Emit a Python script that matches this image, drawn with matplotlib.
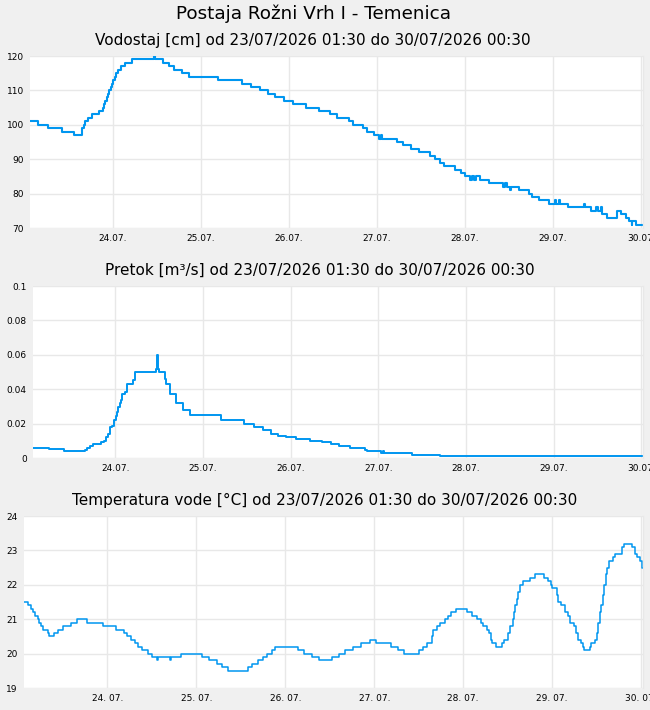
import matplotlib
matplotlib.use("Agg")
import matplotlib.pyplot as plt
import numpy as np

# Time is hours since 23/07/2026 00:00
T_START = 1.5      # 23/07 01:30
T_END = 168.5      # 30/07 00:30

# Vodostaj [cm]
level_t = [1.5, 3.8, 6.4, 10.3, 13.4, 15.8, 16.1, 16.5, 17.3, 18.3, 20.3, 21.3, 21.7, 22.0,
           22.4, 22.8, 23.1, 23.5, 23.8, 24.2, 24.6, 25.0, 25.5, 26.2, 27.4, 29.4, 35.3, 35.6,
           37.8, 39.3, 40.8, 42.8, 44.8, 52.8, 59.3, 61.6, 64.2, 66.4, 68.3, 70.6, 73.1, 76.7,
           80.3, 83.2, 85.1, 88.3, 89.6, 92.1, 93.3, 95.2, 96.7, 97.1, 97.5, 101.4, 103.0,
           105.3, 107.4, 110.4, 111.9, 113.2, 114.3, 117.3, 118.8, 120.0, 121.3, 122.0, 122.5,
           123.0, 124.2, 126.5, 130.4, 130.9, 131.4, 132.2, 132.6, 134.8, 137.4, 138.3, 140.1,
           142.8, 144.6, 144.9, 145.6, 146.0, 148.1, 152.3, 152.6, 154.2, 155.8, 156.2, 157.0,
           157.4, 158.7, 161.4, 162.6, 164.0, 164.7, 165.4, 165.6, 166.6, 168.5]
level_v = [101, 100, 99, 98, 97, 99, 100, 101, 102, 103, 104, 105, 106, 107,
           108, 109, 110, 111, 112, 113, 114, 115, 116, 117, 118, 119, 120, 119,
           118, 117, 116, 115, 114, 113, 112, 111, 110, 109, 108, 107, 106, 105,
           104, 103, 102, 101, 100, 99, 98, 97, 96, 97, 96, 95, 94,
           93, 92, 91, 90, 89, 88, 87, 86, 85, 84, 85, 84,
           85, 84, 83, 82, 83, 82, 81, 82, 81, 80, 79, 78,
           77, 78, 77, 78, 77, 76, 77, 76, 75, 76, 75, 76,
           74, 73, 75, 74, 73, 72, 71, 72, 71, 71]

# Pretok [m3/s]
flow_t = [1.5, 5.8, 10.0, 15.7, 16.2, 17.0, 18.0, 20.0, 21.0, 21.6, 22.0, 22.5, 23.2, 23.8,
          24.3, 24.6, 24.8, 25.2, 25.6, 26.0, 26.8, 27.3, 28.9, 29.4, 35.2, 35.5, 35.7, 36.0,
          37.6, 38.0, 38.9, 40.7, 42.7, 44.6, 52.9, 59.3, 62.0, 64.4, 66.6, 68.6, 70.8, 73.6,
          77.3, 80.5, 83.2, 85.2, 88.2, 92.4, 92.9, 96.9, 97.2, 97.6, 105.2, 113.0, 168.5]
flow_v = [0.0058, 0.0050, 0.0039, 0.0048, 0.0058, 0.0068, 0.0081, 0.0093, 0.0099, 0.0122,
          0.0141, 0.0180, 0.0186, 0.0219, 0.0242, 0.0267, 0.0297, 0.0320, 0.0335, 0.0370,
          0.0384, 0.0428, 0.0452, 0.0500, 0.0520, 0.0597, 0.0520, 0.0500, 0.0461, 0.0428,
          0.0374, 0.0320, 0.0277, 0.0248, 0.0219, 0.0200, 0.0180, 0.0161, 0.0141, 0.0128,
          0.0122, 0.0109, 0.0099, 0.0091, 0.0081, 0.0070, 0.0058, 0.0048, 0.0041, 0.0029,
          0.0039, 0.0031, 0.0019, 0.0014, 0.0014]

# Temperatura vode [°C]
temp_t = [1.5, 2.6, 3.5, 4.0, 4.6, 5.2, 5.5, 6.0, 6.5, 7.9, 8.2, 9.7, 10.8, 11.9, 14.2, 15.8,
          18.5, 22.8, 26.2, 28.4, 29.2, 30.4, 31.4, 32.3, 33.4, 35.0, 36.0, 37.5, 37.7, 40.9,
          41.1, 43.8, 49.5, 51.5, 53.5, 55.0, 56.5, 62.0, 63.0, 64.7, 66.0, 67.1, 68.3, 69.2,
          75.3, 77.1, 79.2, 81.2, 84.6, 86.4, 88.1, 90.3, 92.3, 94.8, 96.6, 100.5, 102.5, 104.0,
          108.0, 109.2, 110.3, 111.5, 111.9, 113.0, 113.7, 115.1, 116.0, 116.7, 118.0, 121.1,
          122.5, 123.6, 124.7, 125.4, 126.3, 126.9, 127.4, 127.7, 128.8, 130.4, 131.0, 132.2,
          132.6, 133.3, 133.7, 133.9, 134.4, 134.8, 135.3, 136.2, 138.0, 139.3, 141.8, 142.9,
          143.6, 144.0, 145.2, 145.7, 146.5, 147.4, 148.3, 148.9, 149.9, 150.4, 151.0, 151.7,
          152.4, 152.6, 154.2, 154.6, 155.5, 156.0, 156.4, 156.9, 157.3, 157.8, 158.1, 158.4,
          158.9, 159.4, 160.3, 160.9, 162.7, 163.4, 165.6, 166.3, 167.0, 167.7, 168.2, 168.5]
temp_v = [21.5, 21.4, 21.3, 21.2, 21.1, 21.0, 20.9, 20.8, 20.7, 20.6, 20.5, 20.6, 20.7, 20.8,
          20.9, 21.0, 20.9, 20.8, 20.7, 20.6, 20.5, 20.4, 20.3, 20.2, 20.1, 20.0, 19.9, 19.8,
          19.9, 19.8, 19.9, 20.0, 19.9, 19.8, 19.7, 19.6, 19.5, 19.6, 19.7, 19.8, 19.9, 20.0,
          20.1, 20.2, 20.1, 20.0, 19.9, 19.8, 19.9, 20.0, 20.1, 20.2, 20.3, 20.4, 20.3, 20.2,
          20.1, 20.0, 20.1, 20.2, 20.3, 20.5, 20.7, 20.8, 20.9, 21.0, 21.1, 21.2, 21.3, 21.2,
          21.1, 21.0, 20.9, 20.8, 20.7, 20.6, 20.4, 20.3, 20.2, 20.3, 20.4, 20.6, 20.8, 21.0,
          21.2, 21.4, 21.6, 21.8, 22.0, 22.1, 22.2, 22.3, 22.2, 22.1, 22.0, 21.9, 21.7, 21.5,
          21.4, 21.2, 21.1, 20.9, 20.8, 20.6, 20.4, 20.3, 20.2, 20.1, 20.2, 20.3, 20.4, 20.6,
          20.9, 21.2, 21.4, 21.7, 22.0, 22.3, 22.5, 22.7, 22.8, 22.9, 23.1, 23.2, 23.1, 22.9,
          22.8, 22.7, 22.5, 22.5]

day_ticks = [24, 48, 72, 96, 120, 144, 168]
day_labels_a = ["24.07.", "25.07.", "26.07.", "27.07.", "28.07.", "29.07.", "30.07."]
day_labels_b = ["24. 07.", "25. 07.", "26. 07.", "27. 07.", "28. 07.", "29. 07.", "30. 07."]

level_ticks = [70, 80, 90, 100, 110, 120]
flow_ticks = [0, 0.02, 0.04, 0.06, 0.08, 0.1]
flow_labels = ["0", "0.02", "0.04", "0.06", "0.08", "0.1"]
temp_ticks = [19, 20, 21, 22, 23, 24]

station = "Postaja Rožni Vrh I - Temenica"
period = "od 23/07/2026 01:30 do 30/07/2026 00:30"

BG = "#f0f0f0"
LINE = "#0096f0"
GRID = "#e8e8e8"

plt.rcParams['font.family'] = ['DejaVu Sans']
W, H = 650, 710
fig = plt.figure(figsize=(W / 100, H / 100), dpi=100, facecolor=BG)

def add_panel(left_px, top_px, bottom_px, right_px=643):
    return fig.add_axes([left_px / W, 1 - bottom_px / H, (right_px - left_px) / W,
                         (bottom_px - top_px) / H])

def style(ax, yticks, ylabels, ylim, xlabels):
    ax.set_facecolor("white")
    ax.set_xlim(T_START, T_END)
    ax.set_ylim(*ylim)
    ax.set_xticks(day_ticks)
    ax.set_xticklabels(xlabels)
    ax.set_yticks(yticks)
    ax.set_yticklabels(ylabels)
    ax.grid(True, color=GRID, linewidth=1.0)
    ax.set_axisbelow(True)
    ax.tick_params(length=0, labelsize=6.5, colors="black")
    ax.tick_params(axis='y', pad=4.5)
    ax.tick_params(axis='x', pad=4)
    for s in ['left', 'top', 'bottom']:
        ax.spines[s].set_visible(False)
    ax.spines['right'].set_color(GRID)
    ax.spines['right'].set_linewidth(1.0)

ax1 = add_panel(30, 56, 228)
ax1.plot(level_t, level_v, drawstyle='steps-post', color=LINE, lw=1.5)
style(ax1, level_ticks, [str(v) for v in level_ticks], (70, 120), day_labels_a)

ax2 = add_panel(33, 286, 458)
ax2.plot(flow_t, flow_v, drawstyle='steps-post', color=LINE, lw=1.4)
style(ax2, flow_ticks, flow_labels, (0, 0.1), day_labels_a)

ax3 = add_panel(24, 516, 688)
ax3.plot(temp_t, temp_v, drawstyle='steps-post', color=LINE, lw=1.1)
style(ax3, temp_ticks, [str(v) for v in temp_ticks], (19, 24), day_labels_b)

fig.text(313 / W, 1 - 14 / H, station, ha='center', va='center', fontsize=13.2)
fig.text(312.5 / W, 1 - 40 / H, "Vodostaj [cm] " + period, ha='center', va='center', fontsize=11)
fig.text(320 / W, 1 - 270 / H, "Pretok [m³/s] " + period, ha='center', va='center', fontsize=11)
fig.text(325 / W, 1 - 500 / H, "Temperatura vode [°C] " + period, ha='center', va='center', fontsize=11)

fig.savefig("out.png", dpi=100, facecolor=BG)
